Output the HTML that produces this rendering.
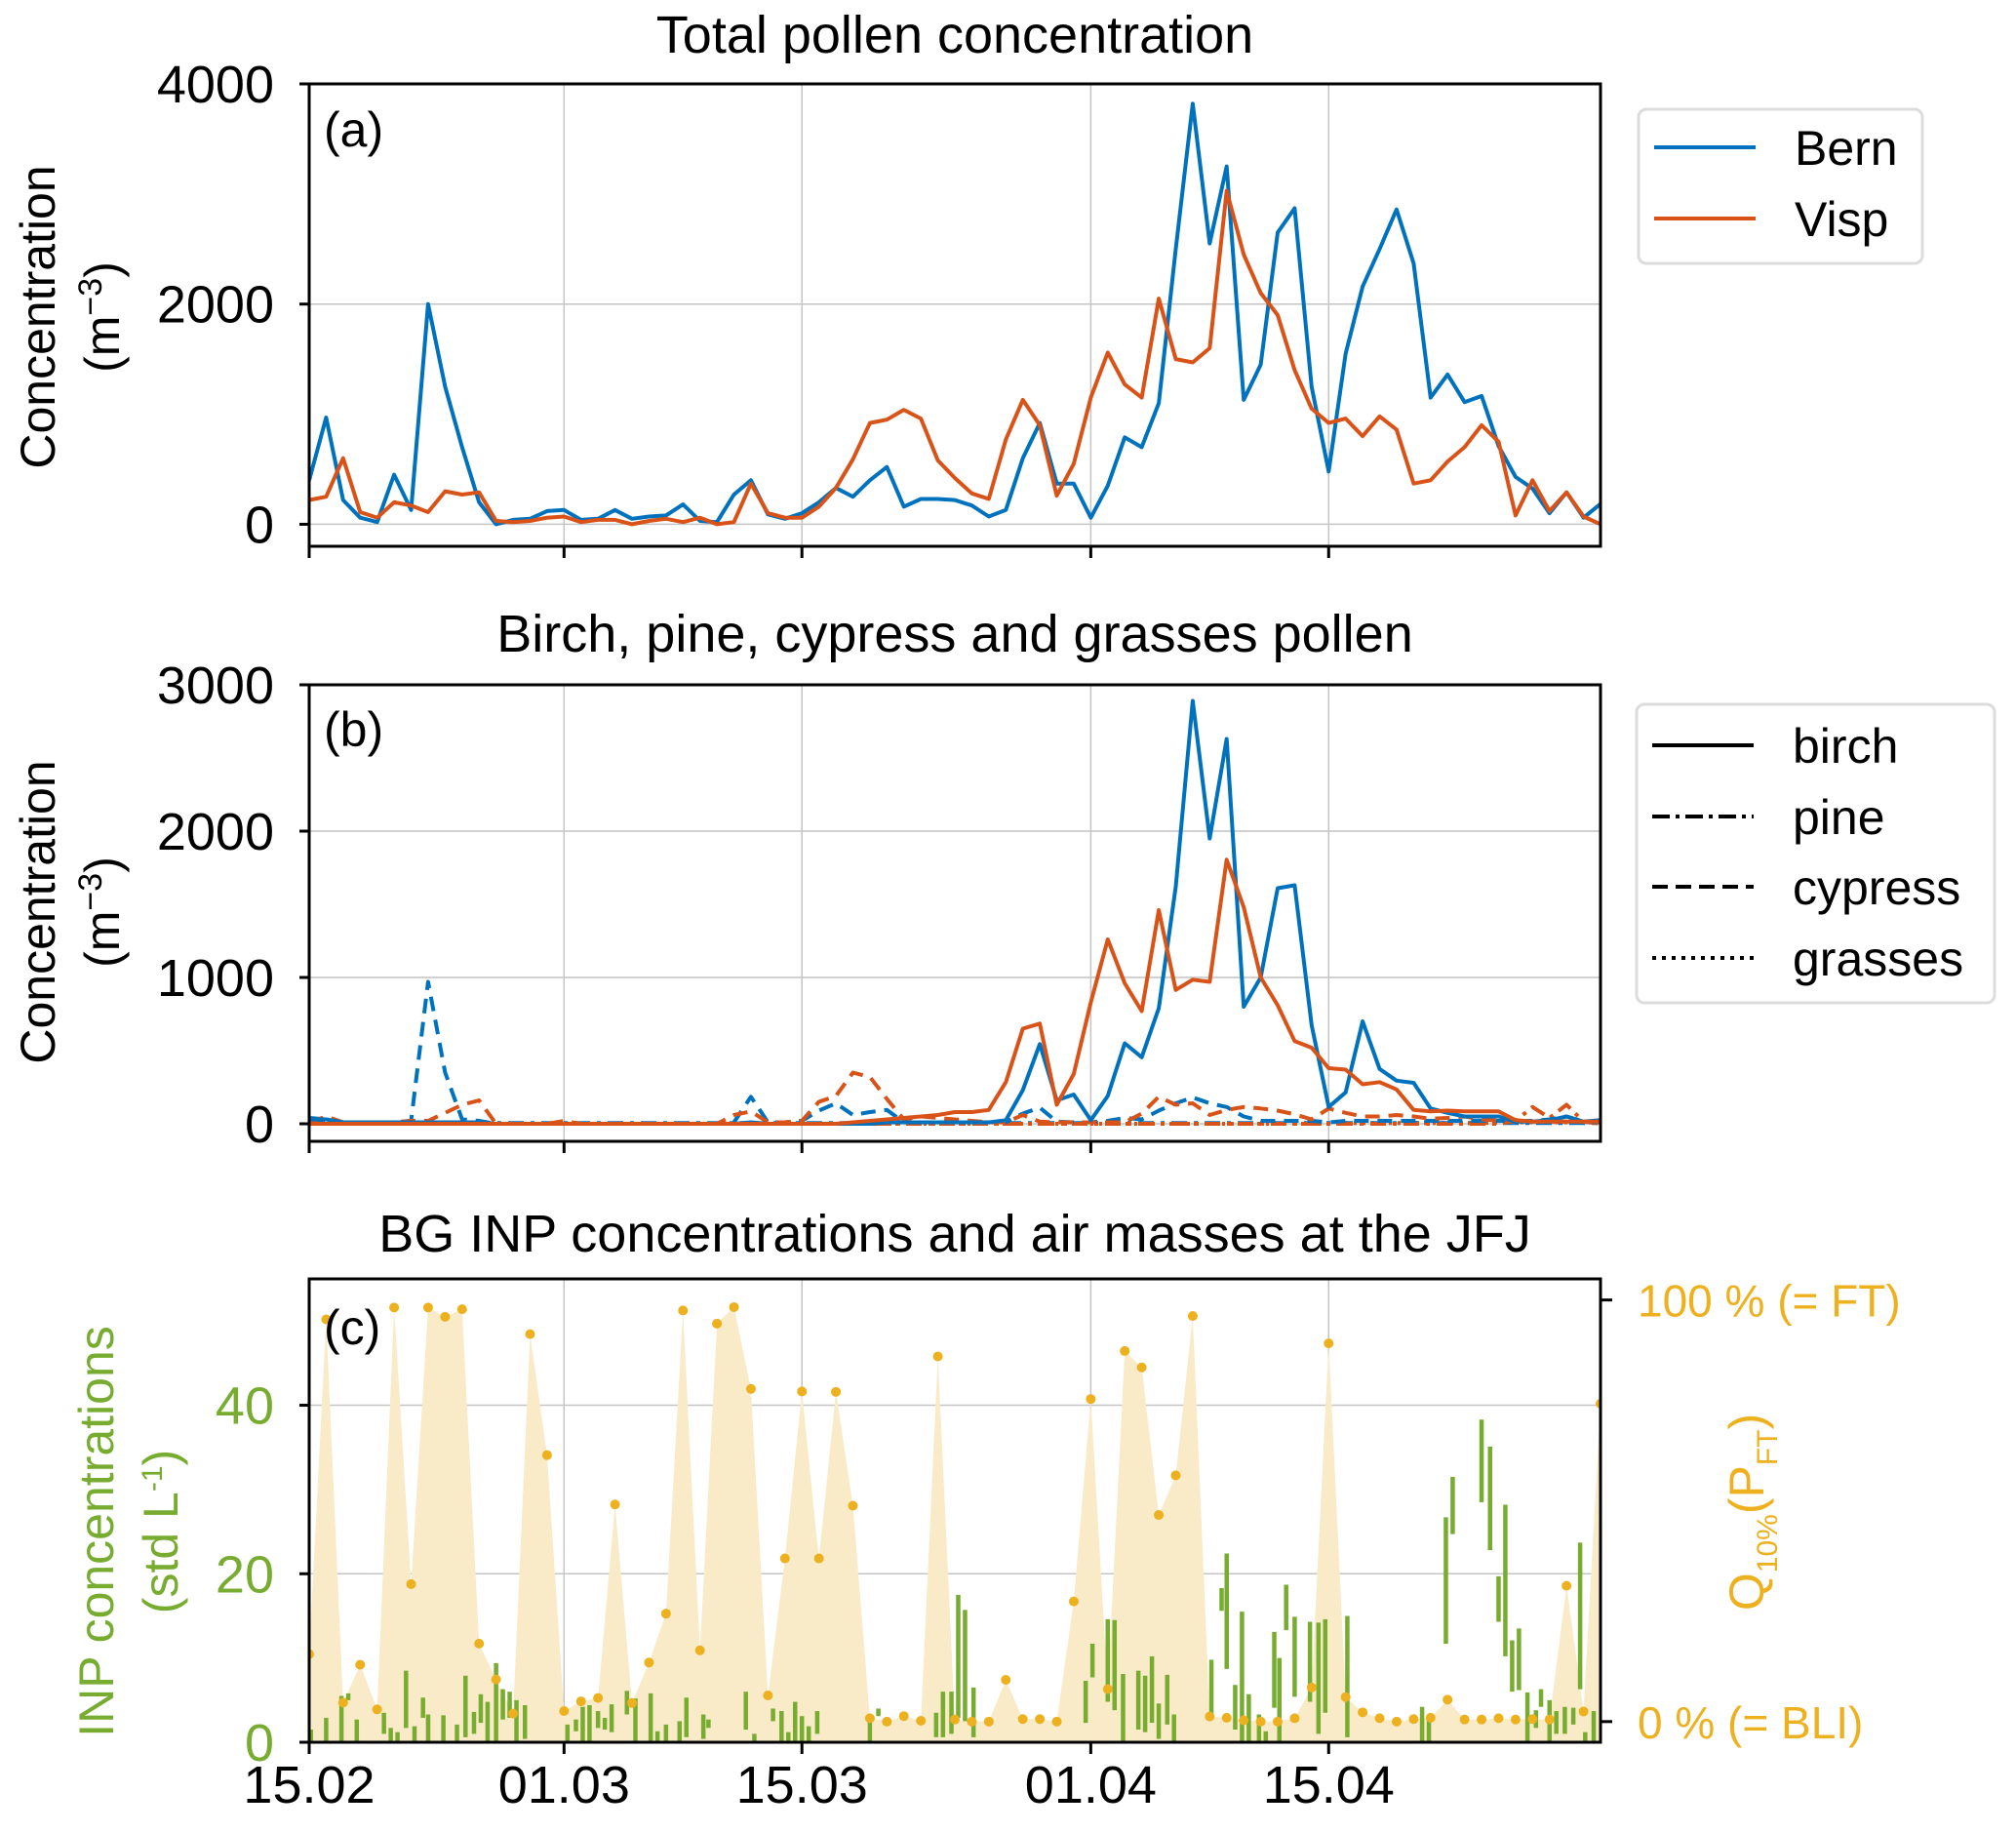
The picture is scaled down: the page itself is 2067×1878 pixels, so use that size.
<!DOCTYPE html>
<html><head><meta charset="utf-8"><style>
html,body{margin:0;padding:0;background:#fff;}
svg{display:block;font-family:"Liberation Sans",Arial,sans-serif;}
</style></head><body>
<svg id="fig" width="2067" height="1878" viewBox="0 0 2067 1878" xmlns="http://www.w3.org/2000/svg"></svg>
<script>
// ---------- data ----------
const dateTickDays=[0,15,29,46,60];
const dateTickLabels=["15.02","01.03","15.03","01.04","15.04"];
const totalTicks=[0,2000,4000];
const speciesTicks=[0,1000,2000,3000];
const inpTicks=[0,20,40];
const bernTotal=[400,970,220,60,20,450,130,2000,1250,700,200,0,40,50,120,130,40,50,130,50,70,80,180,30,20,270,400,90,50,100,200,330,250,400,520,160,230,230,220,170,70,130,600,920,370,370,60,350,790,700,1100,2500,3820,2550,3250,1130,1450,2650,2870,1250,480,1550,2160,2500,2860,2370,1150,1360,1110,1165,710,430,325,100,290,60,185];
const vispTotal=[220,250,600,110,60,200,170,110,300,270,290,30,20,30,60,70,20,40,40,0,30,50,20,60,0,20,370,100,60,60,160,330,590,920,950,1040,960,580,420,280,230,770,1130,900,260,550,1150,1560,1270,1150,2050,1500,1470,1600,3030,2450,2100,1900,1400,1050,920,960,800,980,860,370,400,570,700,900,750,80,400,120,290,70,0];
const bernBirch=[30,30,10,10,10,10,10,10,10,10,10,0,0,0,0,0,0,0,0,0,0,0,0,0,0,0,10,0,0,0,0,0,0,0,10,10,10,10,10,10,10,25,230,545,160,200,25,190,550,455,790,1620,2890,1950,2630,800,1000,1610,1630,675,115,215,700,375,295,280,105,75,50,50,50,15,15,25,50,15,25];
const vispBirch=[0,0,0,0,0,0,0,0,0,0,0,0,0,0,0,0,0,0,0,0,0,0,0,0,0,0,0,0,0,0,0,0,10,20,30,40,50,60,80,80,95,285,650,685,130,340,830,1260,960,770,1460,915,985,970,1805,1480,1000,810,565,520,380,370,270,285,235,95,85,90,85,85,85,25,15,15,15,15,15];
const bernCypress=[40,30,10,10,10,10,20,970,350,30,20,0,0,0,0,0,0,0,0,0,0,0,0,0,0,10,185,10,10,20,90,140,60,80,95,10,10,10,10,10,10,10,70,110,15,10,10,20,40,30,90,140,180,140,115,50,20,20,20,20,10,20,20,20,20,20,20,20,20,20,20,20,20,30,50,15,10];
const vispCypress=[10,50,10,10,10,10,20,20,75,130,160,0,0,0,0,20,0,0,0,0,0,0,0,0,0,60,85,10,10,20,150,190,350,320,170,30,50,40,30,20,10,10,60,15,10,10,10,10,10,70,185,130,140,60,95,115,105,90,65,30,105,75,50,50,60,50,35,40,50,30,20,15,15,15,15,15,10];
const bernPine=[5,5,5,5,5,5,5,5,5,5,5,5,5,5,5,5,5,5,5,5,5,5,5,5,5,5,5,5,5,5,5,5,5,5,5,5,5,5,5,5,5,5,5,5,5,5,5,5,5,5,5,5,5,5,5,5,5,5,5,5,5,5,5,5,5,5,5,5,5,5,5,5,5,5,5,5,5];
const vispPine=[0,0,0,0,0,0,0,0,0,0,0,0,0,0,0,0,0,0,0,0,0,0,0,0,0,0,0,0,0,0,0,0,0,0,0,0,0,0,0,0,0,0,0,0,0,0,0,0,0,0,0,0,0,0,0,0,0,0,0,0,0,0,0,0,0,0,0,0,0,0,0,20,115,40,130,15,0];
const bernGrass=[0,0,0,0,0,0,0,0,0,0,0,0,0,0,0,0,0,0,0,0,0,0,0,0,0,0,0,0,0,0,0,0,0,0,0,0,0,0,0,0,0,0,0,0,0,0,0,0,0,0,0,0,0,0,0,0,0,0,0,0,0,5,5,5,5,5,5,5,5,5,10,10,10,10,10,10,10];
const vispGrass=[0,0,0,0,0,0,0,0,0,0,0,0,0,0,0,0,0,0,0,0,0,0,0,0,0,0,0,0,0,0,0,0,0,0,0,0,0,0,0,0,0,0,0,0,0,0,0,0,0,0,0,0,0,0,0,0,0,0,0,0,0,5,5,5,5,5,5,5,5,5,10,10,10,10,10,10,10];
const airMassQ=[16,95.4,4.5,13.5,2.9,98.2,32.6,98.2,96,97.8,18.5,10,1.9,91.9,63.2,2.5,4.8,5.6,51.5,4.4,14,25.6,97.5,16.9,94.4,98.3,78.9,6.2,38.7,78.3,38.7,78.2,51.2,0.8,0,1.3,0.2,86.6,0.5,0,0,9.9,0.6,0.6,0,28.5,76.5,7.7,87.9,84,49,58.4,96.2,1.2,0.9,0.3,0,0,0.8,8.1,89.7,5.8,2.2,0.8,0,0.6,0.9,5.2,0.5,0.5,0.8,0.5,0.6,0.5,32.2,2.4,75.4];
const inpDay=[0.1,1.0,1.9,2.3,2.8,4.4,4.8,5.2,5.7,6.2,6.7,7.0,7.9,8.7,9.2,9.7,10.1,10.5,11.0,11.4,11.8,12.2,12.7,15.2,15.7,16.1,16.5,17.0,17.4,17.8,18.7,19.2,20.1,20.5,21.0,21.8,22.2,23.2,23.5,25.7,26.2,27.3,27.8,28.2,28.6,29.0,29.4,29.9,33.0,33.5,36.9,37.3,37.8,38.2,38.6,39.1,45.7,46.1,47.0,47.4,47.9,48.8,49.2,49.6,50.0,50.5,50.9,53.1,53.7,54.0,54.5,54.9,55.3,55.9,56.3,56.8,57.1,57.5,58.0,58.9,59.4,59.8,61.1,65.5,65.9,66.9,67.3,69.0,69.5,70.0,70.4,70.8,71.2,71.7,72.2,72.5,73.0,73.4,73.9,74.4,74.8,75.1,75.6];
const inpLow=[0,0,0,5.0,0,1.0,0,0,1.7,0,2.9,0,0,0,0.6,1.0,2.3,0,0,2.7,2.9,0,0.4,0,1.3,0,0,1.7,1.5,1.2,3.3,0,0,0,0,0,0.6,0.4,1.7,1.5,0,2.5,0,0,0,0,0,1.0,0,3.1,0.6,0.6,1.0,2.9,2.5,0.6,2.3,7.7,4.8,3.8,0,1.5,1.2,2.3,0.4,2.1,0,3.1,15.6,8.7,1.5,0,0,0,0,4.1,0,13.3,5.4,4.8,1.0,3.5,0.6,0,0,11.7,24.7,28.5,22.8,14.3,10.2,6.0,6.2,0,1.7,4.2,0,1.0,1.0,2.1,6.3,0,0];
const inpHigh=[1.5,2.9,5.5,5.8,2.7,3.5,1.7,1.2,8.5,1.9,5.3,3.3,3.2,2.1,7.9,3.6,5.7,4.8,9.4,6.3,6.0,5.0,4.4,2.1,2.7,4.2,4.4,3.7,2.9,4.5,6.1,5.2,5.8,1.3,2.1,2.5,5.3,3.3,2.7,6.0,1.0,4.0,3.7,1.2,4.8,3.1,1.9,3.7,2.7,4.0,3.5,6.0,6.0,17.5,15.7,6.5,7.3,11.7,14.6,14.5,8.1,8.5,7.9,10.2,4.6,8.0,3.3,9.8,18.3,22.4,6.8,15.5,5.7,3.3,1.3,13.1,10.0,18.7,14.9,14.3,14.2,14.6,15.0,4.2,2.9,26.7,31.5,38.3,35.1,19.7,28.2,12.1,13.5,5.9,3.8,6.3,5.0,3.7,4.2,4.1,23.7,1.2,3.7];

// ---------- layout ----------
const NS="http://www.w3.org/2000/svg";
const svg=document.getElementById('fig');
const X0=317,X1=1641,DMIN=0,DMAX=76;
function xDay(d){return X0+(d-DMIN)/(DMAX-DMIN)*(X1-X0);}
function mkY(top,bot,vmin,vmax){return v=>bot-(v-vmin)/(vmax-vmin)*(bot-top);}
const P={a:{top:86,bot:560},b:{top:702,bot:1170},c:{top:1311,bot:1786}};
const yA=mkY(P.a.top,P.a.bot,-200,4000);
const yB=mkY(P.b.top,P.b.bot,-120,3000);
const yC=mkY(P.c.top,P.c.bot,0,55);
const yQ=mkY(P.c.top,P.c.bot,-4.9,105);
const BLUE="#0072BD",RED="#D95319",GOLD="#EDB120",GREEN="#77AC30",FILL="#f9ebc8";
function el(tag,attrs,parent){const e=document.createElementNS(NS,tag);for(const k in attrs)e.setAttribute(k,attrs[k]);(parent||svg).appendChild(e);return e;}
function txt(s,attrs,parent){const t=el('text',attrs,parent);t.textContent=s;return t;}

function grid(p,yf,ticks,name){
  const g=el('g',{});
  
  
  dateTickDays.forEach(d=>el('line',{x1:xDay(d),x2:xDay(d),y1:p.top,y2:p.bot,stroke:'#c4c4c4','stroke-width':1.5},g));
  ticks.forEach(v=>el('line',{x1:X0,x2:X1,y1:yf(v),y2:yf(v),stroke:'#c4c4c4','stroke-width':1.5},g));
}
function frame(p,yf,ticks,name,tickColor,labels){
  const g=el('g',{});
  
  
  el('rect',{x:X0,y:p.top,width:X1-X0,height:p.bot-p.top,fill:'none',stroke:'#000','stroke-width':3},g);
  ticks.forEach(v=>{
    el('line',{x1:X0-10,x2:X0,y1:yf(v),y2:yf(v),stroke:'#000','stroke-width':3},g);
    const t=txt(String(v),{x:X0-36,y:yf(v)+19,'text-anchor':'end','font-size':54,fill:tickColor},g);
    
    
  });
  dateTickDays.forEach((d,i)=>{
    el('line',{x1:xDay(d),x2:xDay(d),y1:p.bot,y2:p.bot+12,stroke:'#000','stroke-width':3},g);
    if(labels){
      const t=txt(dateTickLabels[i],{x:xDay(d),y:p.bot+62,'text-anchor':'middle','font-size':54},g);
      
      
    }
  });
}
function line(days,vals,yf,color,dash,name,w){
  const pts=vals.map((v,i)=>xDay(i).toFixed(1)+','+yf(v).toFixed(1)).join(' ');
  const pl=el('polyline',{points:pts,fill:'none',stroke:color,'stroke-width':w||4,'stroke-linejoin':'round'});
  if(dash)pl.setAttribute('stroke-dasharray',dash);
  
  
}
function clip(p,id){const c=el('clipPath',{id:id});el('rect',{x:X0,y:p.top,width:X1-X0,height:p.bot-p.top},c);}
clip(P.a,'ca');clip(P.b,'cb');clip(P.c,'cc');

// titles
[['Total pollen concentration',54,'title-a'],['Birch, pine, cypress and grasses pollen',668,'title-b'],['BG INP concentrations and air masses at the JFJ',1283,'title-c']].forEach(t=>{
  const e=txt(t[0],{x:979,y:t[1],'text-anchor':'middle','font-size':54});
  
  
});

// ---------- panel a ----------
grid(P.a,yA,totalTicks,'panel-a');
const ga=el('g',{'clip-path':'url(#ca)'});
line(null,bernTotal,yA,BLUE,null,'bern-total-line');
line(null,vispTotal,yA,RED,null,'visp-total-line');
[...svg.querySelectorAll('polyline')].forEach(p=>ga.appendChild(p));
frame(P.a,yA,totalTicks,'panel-a','#000',false);

// ---------- panel b ----------
grid(P.b,yB,speciesTicks,'panel-b');
const gb=el('g',{'clip-path':'url(#cb)'});
const before=new Set(svg.querySelectorAll('polyline'));
line(null,bernGrass,yB,BLUE,'3,6','bern-grasses-line');
line(null,vispGrass,yB,RED,'3,6','visp-grasses-line');
line(null,bernPine,yB,BLUE,'16,7,4,7','bern-pine-line');
line(null,vispPine,yB,RED,'16,7,4,7','visp-pine-line');
line(null,bernCypress,yB,BLUE,'15,9','bern-cypress-line');
line(null,vispCypress,yB,RED,'15,9','visp-cypress-line');
line(null,bernBirch,yB,BLUE,null,'bern-birch-line');
line(null,vispBirch,yB,RED,null,'visp-birch-line');
[...svg.querySelectorAll('polyline')].filter(p=>!before.has(p)).forEach(p=>gb.appendChild(p));
frame(P.b,yB,speciesTicks,'panel-b','#000',false);

// ---------- panel c ----------
grid(P.c,yC,[20,40],'panel-c');
const gc=el('g',{'clip-path':'url(#cc)'});


let ap='M'+xDay(0)+','+P.c.bot;
airMassQ.forEach((q,i)=>{ap+=' L'+xDay(i).toFixed(1)+','+yQ(q).toFixed(1);});
ap+=' L'+xDay(airMassQ.length-1)+','+P.c.bot+' Z';
const area=el('path',{d:ap,fill:FILL,stroke:'none'},gc);


inpDay.forEach((d,i)=>{
  const s=el('line',{x1:xDay(d),x2:xDay(d),y1:yC(inpLow[i]),y2:yC(inpHigh[i]),stroke:GREEN,'stroke-width':4.5},gc);
  
  
});
airMassQ.forEach((q,i)=>{
  const c=el('circle',{cx:xDay(i),cy:yQ(q),r:5,fill:GOLD},gc);
  
  
});
frame(P.c,yC,inpTicks,'panel-c',GREEN,true);
// right axis
[[100,'100 % (= FT)'],[0,'0 % (= BLI)']].forEach(r=>{
  el('line',{x1:X1,x2:X1+12,y1:yQ(r[0]),y2:yQ(r[0]),stroke:'#000','stroke-width':3});
  const t=txt(r[1],{x:X1+38,y:yQ(r[0])+17,'font-size':46,fill:GOLD});
  
  
});

// panel letters
[['(a)',332,150],['(b)',332,765],['(c)',332,1378]].forEach(l=>{
  const t=txt(l[0],{x:l[1],y:l[2],'font-size':50});
  
  
});

// y labels
function ylab(lines,cx,cy,color,name){
  const g=el('g',{transform:'translate('+cx+','+cy+') rotate(-90)'});
  
  
  lines.forEach(l=>{const t=el('text',{x:0,y:l.dy,'text-anchor':'middle','font-size':l.fs||50,fill:color},g);t.innerHTML=l.h;});
}
ylab([{h:'Concentration',dy:0},{h:'(m<tspan font-size="34" dy="-18">−3</tspan><tspan dy="18">)</tspan>',dy:66}],56,325,'#000','y-axis-title-a');
ylab([{h:'Concentration',dy:0},{h:'(m<tspan font-size="34" dy="-18">−3</tspan><tspan dy="18">)</tspan>',dy:66}],56,935,'#000','y-axis-title-b');
ylab([{h:'INP concentrations',dy:0},{h:'(std L<tspan font-size="30" dy="-16">-1</tspan><tspan dy="16">)</tspan>',dy:66}],116,1570,GREEN,'y-axis-title-c');
ylab([{h:'Q<tspan font-size="30" dy="14">10%</tspan><tspan dy="-14">(P</tspan><tspan font-size="30" dy="14">FT</tspan><tspan dy="-14">)</tspan>',dy:0}],1808,1550,GOLD,'right-axis-title-c');

// legends
function legend(x,y,w,h,items,name){
  const g=el('g',{});
  
  
  el('rect',{x:x,y:y,width:w,height:h,rx:8,fill:'#fff',stroke:'#dcdcdc','stroke-width':3},g);
  items.forEach(it=>{
    const gi=el('g',{},g);
    
    
    const ln=el('line',{x1:x+16,x2:x+120,y1:it.y,y2:it.y,stroke:it.c,'stroke-width':4},gi);
    if(it.d)ln.setAttribute('stroke-dasharray',it.d);
    txt(it.t,{x:x+160,y:it.y+18,'font-size':50},gi);
  });
}
legend(1680,112,291,158,[{t:'Bern',c:BLUE,y:151},{t:'Visp',c:RED,y:224}],'legend-a');
legend(1678,722,367,306,[{t:'birch',c:'#000',y:764},{t:'pine',c:'#000',y:837,d:'18,6,4,6'},{t:'cypress',c:'#000',y:909,d:'16,8'},{t:'grasses',c:'#000',y:982,d:'4,6'}],'legend-b');
</script>
</body></html>
